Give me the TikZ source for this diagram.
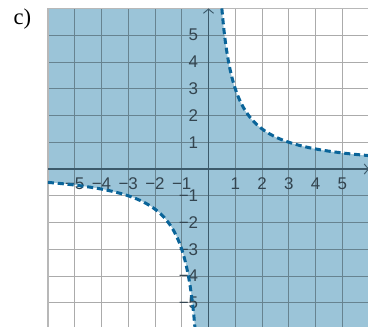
\documentclass[tikz,border=0pt]{standalone}
\usepackage{fontspec}
\setmainfont{Liberation Serif}
\setsansfont{Liberation Sans}
\usetikzlibrary{arrows.meta}

\definecolor{regionfill}{HTML}{9BC4D8}
\definecolor{curveblue}{HTML}{0A6499}
\definecolor{axisgray}{HTML}{3C5A6B}
\definecolor{labelgray}{HTML}{33444F}

\begin{document}
\begin{tikzpicture}[
  font=\sffamily\fontsize{18}{21}\selectfont,
  gridline/.style={line width=0.8pt,black,opacity=0.33},
  frameline/.style={line width=1.6pt,black!28},
  axis/.style={line width=1.5pt,axisgray,
               -{Straight Barb[length=1.6mm,width=3.8mm,line width=1pt]}},
  curve/.style={line width=3.2pt,curveblue,dash pattern=on 6.5pt off 4pt},
  ticklabel/.style={text=labelgray,inner sep=0pt}]

\clip (-7.79,-5.87) rectangle (5.96,6.315);

\fill[regionfill] (-6,-6) rectangle (6,6);
\fill[white] (0.5,6) -- plot[domain=0.5:6,samples=200,smooth] (\x,{3/\x}) -- (6,6) -- cycle;
\fill[white] (-0.5,-6) -- plot[domain=-0.5:-6,samples=200,smooth] (\x,{3/\x}) -- (-6,-6) -- cycle;

\draw[gridline] (-6,-6) grid (6,6);
\draw[frameline] (-6,-6) rectangle (6,6);

\draw[axis] (0,-6) -- (0,6);
\draw[axis] (-6,0) -- (6,0);

\foreach \k in {1,...,5} {
  \node[ticklabel] (xp\k) at (\k,-0.55) {\k};
  \node[ticklabel] (xn\k) at (-\k,-0.55) {−\k};
  \node[ticklabel,anchor=east] (yp\k) at (-0.38,\k) {\k};
  \node[ticklabel,anchor=east] (yn\k) at (-0.38,-\k) {−\k};
}

\draw[curve] plot[domain=0.5:6,samples=200,smooth] (\x,{3/\x});
\draw[curve] plot[domain=-6:-0.5,samples=200,smooth] (\x,{3/\x});

\node[font=\rmfamily\fontsize{24}{27}\selectfont] (part) at (-6.95,5.6) {c)};
\end{tikzpicture}
\end{document}
